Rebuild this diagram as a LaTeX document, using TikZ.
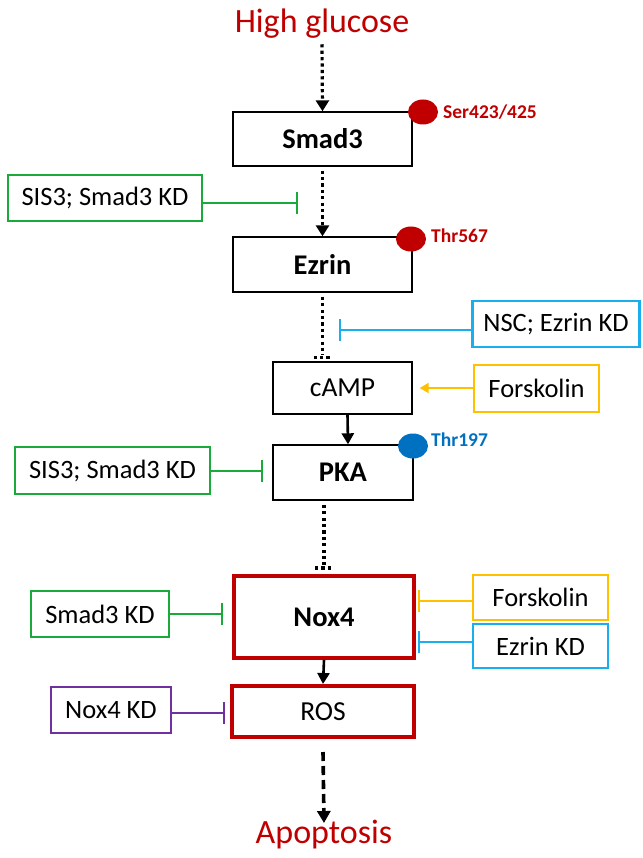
\documentclass[tikz,border=0pt]{standalone}
\usepackage{fontspec}
\setmainfont{Carlito}
\usetikzlibrary{arrows.meta,positioning,shapes.geometric}

\definecolor{hgred}{HTML}{C00000}
\definecolor{kdgreen}{HTML}{1AAA3A}
\definecolor{kdblue}{HTML}{1AAEEC}
\definecolor{kdorange}{HTML}{FFC000}
\definecolor{kdpurple}{HTML}{7030A0}
\definecolor{phblue}{HTML}{0070C0}

\tikzset{
  mainbox/.style={draw=black, line width=1.4pt, inner sep=0pt,
    font=\fontsize{28.5}{30}\selectfont\bfseries},
  plainbox/.style={mainbox, font=\fontsize{27.5}{30}\selectfont},
  redbox/.style={draw=hgred, line width=4pt, inner sep=0pt},
  kdbox/.style={draw=#1, line width=2.5pt, inner sep=0pt,
    font=\fontsize{26.5}{28}\selectfont},
  endtext/.style={text=hgred, font=\fontsize{34}{36}\selectfont},
  phos/.style={ellipse, fill=#1, inner sep=0pt, minimum width=30pt, minimum height=25pt},
  phlabel/.style={anchor=west, inner sep=0pt, text=#1,
    font=\fontsize{19.5}{21}\selectfont\bfseries},
  dotarrow/.style={line width=3.2pt, dash pattern=on 3.2pt off 3.2pt,
    -{Triangle[length=11pt,width=13pt]}},
  dotline/.style={line width=3.2pt, dash pattern=on 3.2pt off 3.2pt},
  solidarrow/.style={line width=2.6pt, -{Triangle[length=11pt,width=12pt]}},
  inhib/.style={line width=2.2pt, -{Bar[width=22pt,line width=2.2pt]}, draw=#1},
}

\begin{document}
\begin{tikzpicture}[x=1pt, y=-1pt]
  \useasboundingbox (0,0) rectangle (642,858);

  %% main pathway
  \node[endtext] (glucose) at (322,24) {High glucose};
  \node[mainbox, minimum width=179pt, minimum height=54pt] (smad3) at (322.5,139) {Smad3};
  \node[mainbox, minimum width=179pt, minimum height=55pt] (ezrin) at (322.5,264.5) {Ezrin};
  \node[plainbox, minimum width=139pt, minimum height=52pt] (camp) at (342.5,388) {cAMP};
  \node[mainbox, minimum width=140pt, minimum height=55pt] (pka) at (343,472.5) {PKA};
  \node[redbox, minimum width=180pt, minimum height=82pt,
        font=\fontsize{28.5}{30}\selectfont\bfseries] (nox4) at (324,617) {Nox4};
  \node[redbox, minimum width=182pt, minimum height=51pt,
        font=\fontsize{27.5}{30}\selectfont] (ros) at (323,711.5) {ROS};
  \node[endtext] (apoptosis) at (324,835) {Apoptosis};

  %% phosphorylation sites
  \node[phos=hgred] (ph1) at (423,112) {};
  \node[phlabel=hgred] (ser) at (443,112) {Ser423/425};
  \node[phos=hgred] (ph2) at (411,239) {};
  \node[phlabel=hgred] (thr567) at (431,236) {Thr567};
  \node[phos=phblue] (ph3) at (413,446) {};
  \node[phlabel=phblue] (thr197) at (431,440) {Thr197};

  %% side treatments
  \node[kdbox=kdgreen, minimum width=194pt, minimum height=46pt] (sis1) at (105,198) {SIS3; Smad3 KD};
  \node[kdbox=kdblue, minimum width=167pt, minimum height=46pt] (nsc) at (556,324) {NSC; Ezrin KD};
  \node[kdbox=kdorange, minimum width=125pt, minimum height=47pt] (forsk1) at (536.5,388.5) {Forskolin};
  \node[kdbox=kdgreen, minimum width=195pt, minimum height=47pt] (sis2) at (112.5,470.5) {SIS3; Smad3 KD};
  \node[kdbox=kdgreen, minimum width=138pt, minimum height=46pt] (smadkd) at (100,614) {Smad3 KD};
  \node[kdbox=kdorange, minimum width=135pt, minimum height=45pt] (forsk2) at (540.5,597.5) {Forskolin};
  \node[kdbox=kdblue, minimum width=135pt, minimum height=44pt] (ezkd) at (540.5,646) {Ezrin KD};
  \node[kdbox=kdpurple, minimum width=120pt, minimum height=46pt] (nox4kd) at (111,710) {Nox4 KD};

  %% inhibition targets
  \coordinate (t1) at (298,203);
  \coordinate (t2) at (339,330);
  \coordinate (t3) at (263,471);
  \coordinate (t4) at (223,614);
  \coordinate (t5) at (418,601);
  \coordinate (t6) at (418,642);
  \coordinate (t7) at (225,713);

  %% arrows
  \draw[dotarrow] ([yshift=-2pt]glucose.south) -- (smad3.north);
  \draw[dotarrow] ([yshift=-4pt]smad3.south) -- (ezrin.north);
  \draw[dotline] ([yshift=-4pt]ezrin.south) -- ([yshift=6pt]ezrin.south |- camp.north);
  \draw[dotline] ([xshift=-9pt,yshift=4pt]ezrin.south |- camp.north) -- ++(18pt,0);
  \draw[solidarrow] ([xshift=5pt]camp.south) -- ([xshift=5pt]pka.north);
  \draw[dotline] ([yshift=-4pt]nox4.north |- pka.south) -- ([yshift=9pt]nox4.north);
  \draw[dotline] ([xshift=-9pt,yshift=6pt]nox4.north) -- ++(18pt,0);
  \draw[solidarrow] (nox4.south) -- (ros.north);
  \draw[line width=3.6pt, dash pattern=on 9pt off 5pt, -{Triangle[length=12pt,width=13pt]}]
    ([yshift=-13pt]ros.south) -- ([yshift=-6pt]apoptosis.north);
  \draw[line width=2pt, draw=kdorange, -{Triangle[length=9pt,width=10pt]}]
    (forsk1.west |- camp.east) -- ([xshift=7pt]camp.east);

  %% inhibitions
  \draw[inhib=kdgreen] (sis1.east |- t1) -- (t1);
  \draw[inhib=kdblue] (nsc.west |- t2) -- (t2);
  \draw[inhib=kdgreen] (sis2.east |- t3) -- (t3);
  \draw[inhib=kdgreen] (smadkd.east |- t4) -- (t4);
  \draw[inhib=kdorange] (forsk2.west |- t5) -- (t5);
  \draw[inhib=kdblue] (ezkd.west |- t6) -- (t6);
  \draw[inhib=kdpurple] (nox4kd.east |- t7) -- (t7);
\end{tikzpicture}
\end{document}
